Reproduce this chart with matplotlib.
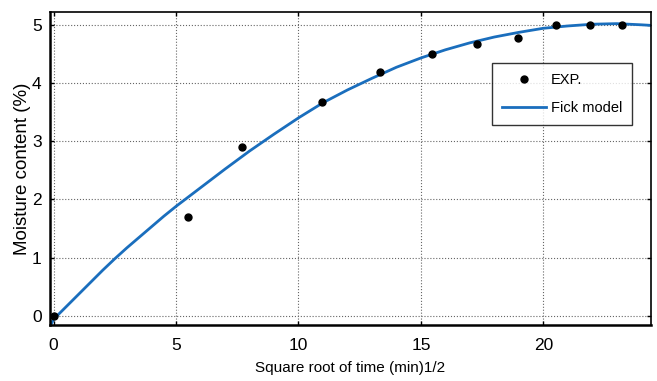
import matplotlib
matplotlib.use("Agg")
import matplotlib.pyplot as plt

plt.rcParams['font.family'] = ['Liberation Sans', 'DejaVu Sans']

# Experimental data
exp_x = [0, 5.5, 7.7, 10.95, 13.35, 15.45, 17.3, 18.97, 20.5, 21.9, 23.2]
exp_y = [0.0, 1.7, 2.9, 3.68, 4.19, 4.5, 4.67, 4.78, 4.99, 4.99, 4.99]

# Fick model curve
fick_x = [-0.12, 0, 0.5, 1, 1.5, 2, 2.5, 3, 3.5, 4, 4.5, 5, 6, 7, 8, 9, 10,
          11, 12, 13, 14, 15, 16, 17, 18, 19, 20, 21, 22, 23, 24, 24.4]
fick_y = [-0.16, -0.06, 0.15, 0.36, 0.57, 0.78, 0.98, 1.17, 1.35, 1.53, 1.71,
          1.88, 2.2, 2.52, 2.83, 3.12, 3.4, 3.66, 3.88, 4.08, 4.27, 4.43,
          4.57, 4.69, 4.79, 4.87, 4.94, 4.98, 5.01, 5.02, 5.0, 4.99]

x_ticks = [0, 5, 10, 15, 20]
y_ticks = [0, 1, 2, 3, 4, 5]

fig = plt.figure(figsize=(6.57, 3.81), dpi=100)
ax = fig.add_axes([50/657, 1-325/381, 601/657, 313/381])

ax.plot(exp_x, exp_y, 'o', color='black', markersize=5, label='EXP.', zorder=3)
ax.plot(fick_x, fick_y, '-', color='#1a6ebd', linewidth=2, label='Fick model', zorder=2)

ax.set_xlim(-0.15, 24.4)
ax.set_ylim(-0.16, 5.22)
ax.set_xticks(x_ticks)
ax.set_yticks(y_ticks)
ax.tick_params(direction='in', top=True, right=True, length=3, width=1,
               labelsize=12.5)
ax.tick_params(axis='x', pad=9)
ax.tick_params(axis='y', pad=6)
ax.grid(True, linestyle=':', color='#666666', linewidth=0.8)
for s in ax.spines.values():
    s.set_linewidth(1.2)
ax.spines['left'].set_linewidth(1.8)
ax.spines['bottom'].set_linewidth(1.8)

ax.set_xlabel('Square root of time (min)1/2', fontsize=11, labelpad=6)
ax.set_ylabel('Moisture content (%)', fontsize=13.5, labelpad=1)

leg = ax.legend(loc='upper left', bbox_to_anchor=(0.735, 0.837), fontsize=10.5,
                frameon=True, fancybox=False, edgecolor='black',
                handlelength=3.0, handletextpad=0.35, borderpad=0.7,
                labelspacing=0.95, borderaxespad=0)
leg.get_frame().set_linewidth(1.0)

fig.savefig('out.png', dpi=100)
